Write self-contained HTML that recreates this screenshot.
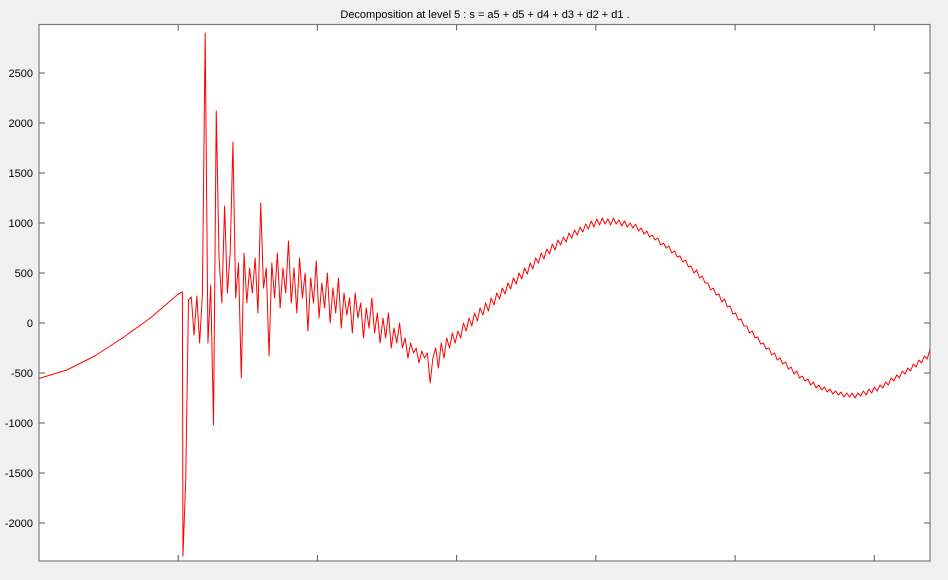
<!DOCTYPE html>
<html><head><meta charset="utf-8">
<style>
html,body{margin:0;padding:0;background:#f0f0f0;}
svg{display:block;font-family:"Liberation Sans",sans-serif;}
</style></head>
<body>
<svg id="chart" width="948" height="580">
  <rect x="0" y="0" width="948" height="580" fill="#f0f0f0"/>
  <rect x="39" y="24.5" width="891" height="536.5" fill="#ffffff"/>
  <text x="485" y="18" text-anchor="middle" font-size="11" fill="#000">Decomposition at level 5 : s = a5 + d5 + d4 + d3 + d2 + d1 .</text>
  <g id="ticks"></g>
  <g id="series"></g>
  <rect x="39" y="24.5" width="891" height="536.5" fill="none" stroke="#7a7a7a" stroke-width="1.2"/>
</svg>
<script>
const yTicks = [2500, 2000, 1500, 1000, 500, 0, -500, -1000, -1500, -2000];
const xTicks = [1000, 2000, 3000, 4000, 5000, 6000];
const smoothX = [0, 200, 400, 600, 800, 1000, 1030];
const smoothY = [-555, -470, -330, -150, 50, 290, 310];
const noisyStart = 1034;
const noisyEnd = 6400;
const noisyY = [-2330,
-1570,230,260,-120,270,-200,280,2900,-200,380,
-1020,2120,650,200,1170,300,700,1810,250,600,
-550,700,200,550,300,650,100,1200,350,550,
-330,600,250,700,150,550,300,820,200,550,
100,650,250,500,-80,450,200,620,50,400,
150,500,0,350,100,450,-50,300,80,250,
-100,300,50,200,-150,150,-50,250,-100,100,
-200,50,-150,100,-250,-50,-200,0,-250,-150,
-350,-200,-300,-250,-400,-280,-350,-300,-600,-350,
-250,-450,-200,-350,-150,-250,-100,-200,-80,-150,
0,-80,50,-30,100,20,150,80,200,120,
250,180,300,240,350,290,400,340,450,390,
500,440,550,490,600,540,650,600,700,640,
740,690,790,730,830,780,860,810,900,850,
930,880,960,910,990,940,1020,960,1040,980,
1050,990,1040,980,1050,990,1030,970,1020,960,
1000,950,990,920,950,890,920,860,880,830,
850,780,800,750,770,700,720,660,670,610,
630,560,570,500,530,450,470,400,400,330,
350,280,290,210,240,160,170,90,100,30,
40,-30,-30,-100,-80,-150,-140,-210,-200,-260,
-250,-320,-300,-370,-350,-410,-390,-460,-440,-510,
-480,-550,-530,-580,-560,-620,-590,-650,-620,-670,
-640,-690,-660,-710,-680,-720,-690,-740,-700,-740,
-700,-750,-700,-730,-680,-720,-660,-700,-640,-680,
-620,-650,-590,-620,-550,-580,-520,-550,-480,-510,
-450,-480,-410,-440,-370,-400,-330,-360,-260];

const X0=39, X1=930, Y0=24.5, Y1=561;
const xMin=0, xMax=6400;
const xs = v => X0 + (v - xMin) / (xMax - xMin) * (X1 - X0);
const ys = v => 323 - v * 0.1;
const NS='http://www.w3.org/2000/svg';
const tg=document.getElementById('ticks');
yTicks.forEach(t=>{
  const y=ys(t);
  const l=document.createElementNS(NS,'path');
  l.setAttribute('d',`M${X0},${y}H${X0+6}M${X1},${y}H${X1-6}`);
  l.setAttribute('stroke','#555');l.setAttribute('stroke-width','1');
  
  
  tg.appendChild(l);
  const tx=document.createElementNS(NS,'text');
  tx.setAttribute('x',X0-6);tx.setAttribute('y',y+4);
  tx.setAttribute('text-anchor','end');tx.setAttribute('font-size','11');
  tx.textContent=t;
  
  
  tg.appendChild(tx);
});
xTicks.forEach(t=>{
  const x=xs(t);
  const l=document.createElementNS(NS,'path');
  l.setAttribute('d',`M${x},${Y0}V${Y0+6}M${x},${Y1}V${Y1-6}`);
  l.setAttribute('stroke','#555');l.setAttribute('stroke-width','1');
  
  
  tg.appendChild(l);
});
const pts=[];
smoothX.forEach((v,i)=>pts.push([xs(v),ys(smoothY[i])]));
const step=(noisyEnd-noisyStart)/(noisyY.length-1);
noisyY.forEach((v,i)=>pts.push([xs(noisyStart+i*step),ys(v)]));
const p=document.createElementNS(NS,'polyline');
p.setAttribute('points',pts.map(q=>q[0].toFixed(2)+','+q[1].toFixed(2)).join(' '));
p.setAttribute('fill','none');p.setAttribute('stroke','#ff0000');p.setAttribute('stroke-width','1');
p.setAttribute('stroke-linejoin','round');


document.getElementById('series').appendChild(p);
</script>
</body></html>
